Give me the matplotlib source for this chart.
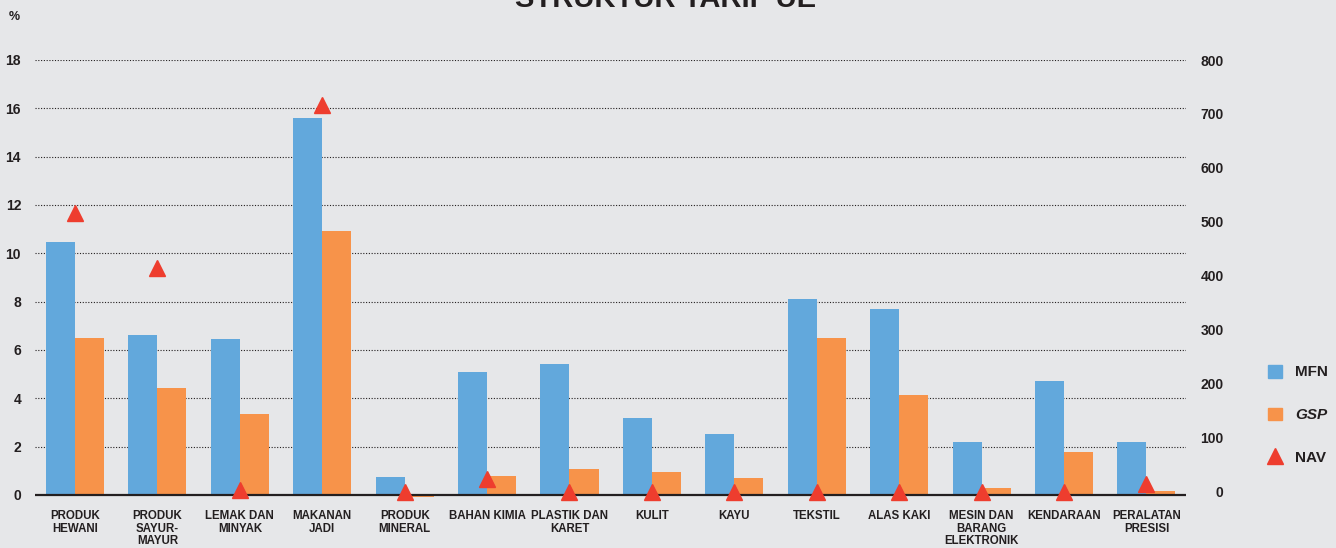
import matplotlib
matplotlib.use('Agg')
import matplotlib.pyplot as plt
import numpy as np
from matplotlib.patches import Patch
from matplotlib.lines import Line2D

plt.rcParams['font.family'] = ['Liberation Sans Narrow', 'Liberation Sans', 'DejaVu Sans']
plt.rcParams['font.weight'] = 'bold'

categories = ['PRODUK\nHEWANI', 'PRODUK\nSAYUR-\nMAYUR', 'LEMAK DAN\nMINYAK', 'MAKANAN\nJADI',
              'PRODUK\nMINERAL', 'BAHAN KIMIA', 'PLASTIK DAN\nKARET', 'KULIT', 'KAYU',
              'TEKSTIL', 'ALAS KAKI', 'MESIN DAN\nBARANG\nELEKTRONIK', 'KENDARAAN',
              'PERALATAN\nPRESISI']
mfn = [10.45, 6.62, 6.45, 15.6, 0.74, 5.09, 5.42, 3.19, 2.52, 8.1, 7.7, 2.2, 4.72, 2.19]
gsp = [6.5, 4.43, 3.35, 10.92, -0.08, 0.77, 1.08, 0.95, 0.69, 6.5, 4.14, 0.29, 1.77, 0.16]
nav = [517, 415, 4, 717, 0, 24, 0, 0, 0, 0, 0, 0, 0, 15]

left_ticks = list(range(0, 20, 2))
right_ticks = list(range(0, 900, 100))

bg = '#E6E7E9'
blue = '#62A8DC'
orange = '#F7934A'
red = '#EE3D2E'
ink = '#231F20'

fig = plt.figure(figsize=(13.36, 5.48), dpi=100, facecolor=bg)
ax = fig.add_axes([35/1336, 1-507/548, 1151/1336, 447/548])
ax.set_facecolor(bg)
ax2 = ax.twinx()

x = np.arange(len(categories))
w = 0.352
ax.bar(x - w/2, mfn, width=w, color=blue, zorder=3)
ax.bar(x + w/2, gsp, width=w, color=orange, zorder=3)

ax.set_ylim(-0.5, 18.0)
ax.set_xlim(-0.485, 13.48)
# right scale sits a few pixels off the left one
ax2.set_ylim(-27.8, 800)
ax2.plot(x, nav, linestyle='none', marker='^', ms=11, color=red, mec=red, zorder=5, clip_on=False)

for t in left_ticks[1:]:
    ax.axhline(t, color=ink, ls=(0, (1, 1.5)), lw=0.8, zorder=1)
ax.axhline(0, color=ink, lw=1.6, zorder=4)

for a in (ax, ax2):
    for s in a.spines.values():
        s.set_visible(False)

ax.set_xticks(x)
ax.set_xticklabels(categories, fontsize=8.3, color=ink, linespacing=1.05)
ax.tick_params(axis='x', length=0, pad=2.5)
ax.set_yticks(left_ticks)
ax.set_yticklabels([str(t) for t in left_ticks], fontsize=10, color=ink)
ax.tick_params(axis='y', length=0, pad=10)
ax2.set_yticks(right_ticks)
ax2.set_yticklabels([str(t) for t in right_ticks], fontsize=10, color=ink, ha='right')
ax2.tick_params(axis='y', length=0, pad=27)

fig.text(14/1336, 1-17/548, '%', fontsize=9, color=ink, ha='center', va='center')
fig.text(666/1336, 1-7/548, 'STRUKTUR TARIF UE', fontsize=21, color=ink, ha='center', va='baseline')

handles = [Patch(color=blue), Patch(color=orange),
           Line2D([], [], linestyle='none', marker='^', ms=12, color=red)]
leg = fig.legend(handles, ['MFN', 'GSP', 'NAV'], loc='center left',
                 bbox_to_anchor=(1254/1336, 1-415/548), frameon=False,
                 fontsize=11, handlelength=0.9, handleheight=0.9,
                 handletextpad=0.9, labelspacing=1.85)
for t in leg.get_texts():
    t.set_color(ink)
leg.get_texts()[1].set_style('italic')

fig.savefig('out.png', dpi=100, facecolor=bg)
